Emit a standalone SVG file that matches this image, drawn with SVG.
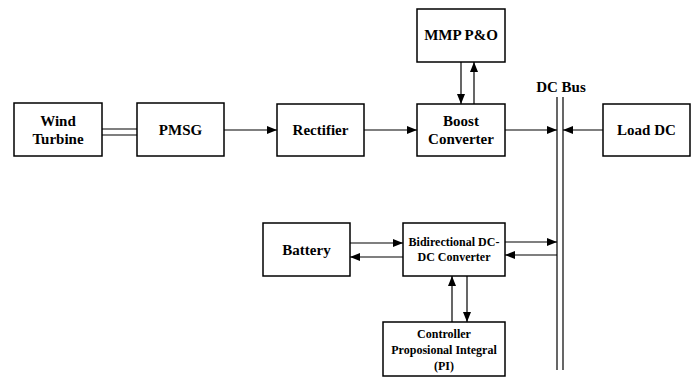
<svg xmlns="http://www.w3.org/2000/svg" width="696" height="379" viewBox="0 0 696 379">
<defs>
<marker id="ah" viewBox="0 0 10 8" refX="10" refY="4" markerWidth="10" markerHeight="8" markerUnits="userSpaceOnUse" orient="auto">
<path d="M0,0 L10,4 L0,8 Z" fill="#000"/>
</marker>
</defs>
<style>
rect{fill:#fff;stroke:#000;stroke-width:1.5}
text{font-family:'Liberation Serif','DejaVu Serif',serif;font-weight:bold;text-anchor:middle;fill:#000}
.t13{font-size:15px}
.t11{font-size:12px}
.c line{stroke:#000;stroke-width:1.2}
.c line.a{marker-end:url(#ah)}
</style>
<rect x="0" y="0" width="696" height="379" style="fill:#fff;stroke:none"/>
<g class="c" id="connectors">
<line x1="102" y1="129" x2="137" y2="129"/>
<line x1="102" y1="135" x2="137" y2="135"/>
<line class="a" x1="224" y1="130" x2="277" y2="130"/>
<line class="a" x1="364" y1="130" x2="417" y2="130"/>
<line class="a" x1="461" y1="62" x2="461" y2="104"/>
<line class="a" x1="474" y1="104" x2="474" y2="62"/>
<line class="a" x1="505" y1="130" x2="557" y2="130"/>
<line class="a" x1="603" y1="130" x2="563" y2="130"/>
<line x1="557" y1="97" x2="557" y2="370"/>
<line x1="563" y1="97" x2="563" y2="370"/>
<line class="a" x1="350" y1="243" x2="403" y2="243"/>
<line class="a" x1="403" y1="257" x2="350" y2="257"/>
<line class="a" x1="505" y1="242" x2="557" y2="242"/>
<line class="a" x1="557" y1="255" x2="505" y2="255"/>
<line class="a" x1="452" y1="322" x2="452" y2="276"/>
<line class="a" x1="467" y1="276" x2="467" y2="322"/>
</g>
<g id="wind-turbine"><rect x="14" y="103" width="88" height="53"/><text class="t13" x="58" y="126">Wind</text><text class="t13" x="58" y="144">Turbine</text></g>
<g id="pmsg"><rect x="137" y="103" width="87" height="53"/><text class="t13" x="180.5" y="135">PMSG</text></g>
<g id="rectifier"><rect x="277" y="104" width="87" height="52"/><text class="t13" x="320.5" y="135">Rectifier</text></g>
<g id="boost"><rect x="417" y="104" width="88" height="52"/><text class="t13" x="461" y="126">Boost</text><text class="t13" x="461" y="144">Converter</text></g>
<g id="mpp"><rect x="417" y="9" width="88" height="53"/><text class="t13" x="461" y="40">MMP P&amp;O</text></g>
<g id="dcbus"><text class="t13" x="561" y="92">DC Bus</text></g>
<g id="load"><rect x="603" y="104" width="87" height="52"/><text class="t13" x="646.5" y="135">Load DC</text></g>
<g id="battery"><rect x="263" y="223" width="87" height="53"/><text class="t13" x="306.5" y="255">Battery</text></g>
<g id="bidir"><rect x="403" y="223" width="102" height="53"/><text class="t11" x="454" y="246">Bidirectional DC-</text><text class="t11" x="454" y="261">DC Converter</text></g>
<g id="controller"><rect x="383" y="322" width="122" height="54"/><text class="t11" x="444" y="338">Controller</text><text class="t11" x="444" y="354">Proposional Integral</text><text class="t11" x="444" y="370">(PI)</text></g>
</svg>
